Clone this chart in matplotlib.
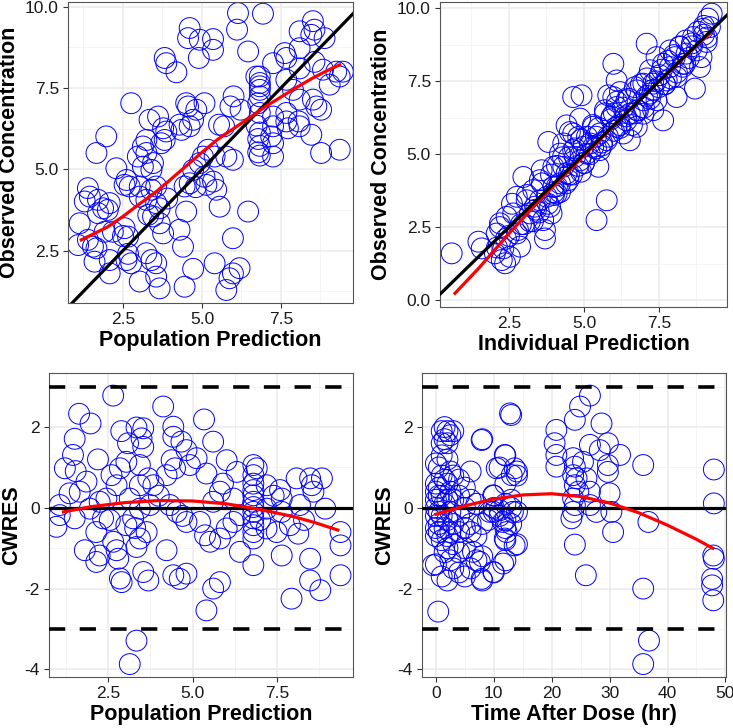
import matplotlib.pyplot as plt
from matplotlib.ticker import MultipleLocator

plt.rcParams['font.family'] = ['Liberation Sans', 'DejaVu Sans']
plt.rcParams['axes.unicode_minus'] = False

# ---- panel 1: observed vs population prediction
pred1 = [6.14, 6.93, 6.11, 4.61, 4.56, 4.93, 5.35, 5.35, 4.90, 6.46, 3.82, 3.87, 4.19,
         8.09, 8.51, 8.56, 8.46, 8.88, 8.09, 7.62, 7.67, 7.25, 8.56, 8.09, 8.83, 9.25,
         9.36, 9.04, 6.72, 6.83, 7.67, 7.88, 8.09, 8.51, 8.62, 8.77, 6.00, 6.22, 5.90,
         5.54, 5.70, 2.76, 4.50, 4.56, 4.82, 5.08, 4.72, 4.61, 4.35, 4.29, 3.34, 3.61,
         3.77, 3.87, 3.82, 3.71, 3.24, 3.13, 3.24, 2.97, 3.13, 3.45, 3.40, 1.97, 1.66,
         2.29, 2.61, 2.55, 2.71, 3.03, 3.40, 3.55, 3.03, 3.24, 3.55, 3.66, 1.39, 1.45,
         1.29, 1.71, 1.87, 2.08, 2.02, 1.71, 1.13, 1.08, 1.39, 1.55, 1.66, 1.60, 2.08,
         2.08, 1.92, 2.18, 2.55, 2.66, 2.61, 2.76, 3.03, 3.24, 3.40, 3.55, 3.55, 3.66,
         3.45, 3.66, 3.77, 4.29, 4.40, 4.45, 4.72, 4.50, 4.45, 4.61, 4.72, 4.93, 5.19,
         5.03, 5.40, 5.08, 5.35, 5.14, 5.56, 5.45, 5.77, 5.98, 5.40, 5.98, 6.19, 5.87,
         5.77, 5.98, 6.46, 6.83, 6.83, 6.83, 6.83, 6.78, 6.83, 6.73, 6.83, 6.78, 6.83,
         6.78, 6.83, 7.25, 7.25, 7.19, 7.25, 7.25, 7.67, 7.67, 7.72, 8.06, 8.09, 8.46,
         8.77, 9.36, 9.46, 2.66, 2.50, 3.30, 3.90, 4.80]
obs1 = [9.80, 9.78, 9.29, 9.34, 9.03, 8.98, 9.00, 8.67, 8.42, 8.62, 8.42, 8.26, 7.98,
        9.24, 9.55, 9.29, 9.13, 9.03, 8.72, 8.57, 8.42, 8.26, 8.30, 8.10, 8.06, 8.00,
        7.85, 7.60, 7.85, 7.55, 7.75, 7.44, 7.14, 7.14, 6.93, 6.83, 7.24, 6.83, 6.93,
        6.37, 6.32, 7.03, 7.03, 6.93, 6.83, 7.03, 6.52, 6.32, 6.21, 6.37, 6.52, 6.62,
        6.26, 6.16, 5.90, 5.80, 5.90, 5.70, 5.50, 5.39, 5.08, 5.19, 4.98, 6.01, 5.50,
        5.03, 4.67, 4.52, 4.47, 4.47, 4.37, 4.47, 4.16, 4.06, 3.96, 3.80, 4.42, 4.16,
        4.01, 4.06, 3.80, 3.96, 3.75, 3.65, 3.34, 2.67, 2.83, 2.62, 2.57, 2.16, 2.21,
        1.80, 3.08, 3.08, 3.19, 2.93, 2.21, 2.11, 1.55, 2.42, 2.21, 2.11, 1.70, 1.34,
        3.55, 3.34, 3.03, 3.14, 2.62, 1.39, 1.94, 3.70, 4.47, 4.57, 4.98, 5.19, 5.60,
        5.39, 5.39, 4.77, 4.62, 4.52, 3.85, 4.37, 5.39, 5.29, 2.11, 1.80, 1.96, 1.65,
        1.29, 2.88, 3.70, 7.85, 7.65, 7.44, 7.24, 7.03, 6.73, 6.34, 6.13, 5.93, 5.72,
        5.52, 5.42, 6.62, 6.32, 6.01, 5.80, 5.39, 6.73, 6.47, 6.26, 6.47, 6.32, 6.06,
        5.50, 5.60, 8.00, 2.40, 2.95, 3.60, 4.10, 4.45]
smooth1_x = [1.18, 2.0, 2.5, 3.0, 3.5, 4.0, 4.5, 5.0, 5.5, 6.0, 6.5, 7.0, 7.5, 8.0, 8.5, 9.0, 9.36]
smooth1_y = [2.83, 3.22, 3.55, 3.92, 4.27, 4.68, 5.10, 5.52, 5.92, 6.25, 6.58, 6.92, 7.22, 7.52, 7.80, 8.05, 8.21]

# ---- panel 2: observed vs individual prediction
pred2 = [0.59, 1.48, 1.59, 2.09, 2.03, 2.26, 2.37, 2.53, 2.31, 2.20, 2.42, 2.64, 2.76,
         2.87, 2.98, 2.76, 3.09, 3.31, 3.20, 3.37, 3.53, 3.59, 3.70, 3.70, 3.64, 3.87,
         3.92, 4.09, 3.98, 3.81, 4.20, 4.31, 4.42, 4.53, 4.81, 4.64, 4.31, 4.48, 4.70,
         4.98, 4.87, 4.92, 5.20, 5.48, 5.42, 5.76, 5.53, 5.70, 5.81, 5.98, 6.09, 5.92,
         6.09, 6.31, 6.42, 6.53, 6.76, 6.76, 6.98, 7.09, 7.20, 7.31, 7.42, 7.42, 7.64,
         7.53, 7.76, 7.87, 8.09, 8.03, 8.20, 8.42, 8.37, 8.70, 8.76, 8.87, 8.92, 8.64,
         8.98, 9.14, 9.26, 9.09, 9.20, 7.87, 7.64, 6.09, 6.20, 4.64, 5.98, 4.20, 4.42,
         4.87, 5.09, 5.31, 5.53, 5.76, 5.31, 4.64, 3.98, 3.76, 3.53, 6.98, 6.76, 6.42,
         6.53, 6.98, 7.31, 7.20, 8.09, 2.50, 3.00, 3.40, 4.00, 4.50, 5.00, 5.60, 6.20,
         6.70, 7.10, 7.70, 8.30, 8.60, 9.00, 2.10, 2.80, 3.20, 4.10, 4.90, 5.40, 6.00,
         2.2, 2.4, 2.6, 2.9, 3.1, 3.3, 3.5, 3.6, 3.8, 3.9, 4.0, 4.1, 4.2, 4.3, 4.4,
         4.5, 4.6, 4.7, 4.8, 4.9, 5.0, 5.1, 5.2, 5.3, 5.4, 5.5, 5.6, 5.7, 5.8, 5.9,
         6.0, 6.1, 6.2, 6.3, 6.4, 6.5, 6.6, 6.7, 6.8, 6.9, 7.0, 7.1, 7.2, 7.3, 7.4,
         7.5, 7.6, 7.7, 7.8, 7.9, 8.0, 8.1, 8.2, 8.3, 8.4, 8.5, 8.6, 8.8, 9.0, 9.1]
obs2 = [1.60, 2.00, 1.77, 2.28, 1.60, 1.37, 1.26, 1.48, 1.77, 2.63, 2.85, 2.97, 2.28,
        1.83, 4.22, 3.54, 3.42, 3.77, 2.97, 3.20, 4.11, 4.45, 2.40, 2.11, 2.74, 3.20,
        2.97, 3.65, 4.57, 5.42, 5.02, 5.37, 5.99, 5.76, 5.59, 5.14, 4.57, 4.11, 4.91,
        5.25, 6.22, 7.02, 5.37, 4.57, 2.74, 3.42, 5.71, 6.51, 7.02, 6.96, 6.62, 6.28,
        5.94, 5.71, 6.16, 5.48, 5.94, 6.51, 6.85, 8.79, 7.08, 7.42, 6.85, 8.33, 6.16,
        7.71, 7.53, 7.99, 6.96, 8.33, 8.68, 8.45, 8.10, 7.25, 8.56, 7.99, 8.33, 9.02,
        9.30, 9.65, 9.82, 8.85, 9.36, 8.56, 8.10, 7.53, 7.13, 6.96, 8.10, 4.00, 4.34,
        4.79, 5.02, 5.25, 5.14, 5.48, 5.94, 5.71, 3.88, 3.54, 3.42, 7.42, 7.19, 6.85,
        6.39, 6.39, 6.51, 7.88, 7.65, 2.20, 2.60, 3.10, 3.70, 4.30, 4.70, 5.40, 6.00,
        6.40, 7.00, 7.40, 8.10, 8.70, 9.10, 1.80, 2.40, 2.70, 3.90, 4.40, 5.60, 6.40,
        2.5, 2.1, 3.3, 2.6, 3.6, 2.7, 3.0, 4.0, 3.3, 4.3, 3.6, 4.6, 3.7, 4.9, 4.0,
        4.9, 4.3, 5.2, 4.6, 5.5, 4.7, 5.6, 5.0, 6.0, 5.2, 5.9, 5.3, 6.4, 5.6, 6.2,
        5.8, 6.8, 5.9, 6.6, 6.3, 6.9, 6.0, 7.3, 6.5, 7.4, 6.6, 7.6, 6.9, 7.2, 7.5,
        7.3, 7.9, 7.4, 8.2, 7.6, 8.4, 7.8, 8.7, 8.0, 8.9, 8.3, 8.8, 9.2, 9.4, 9.0]
smooth2_x = [0.7, 1.5, 2.5, 3.5, 5.0, 6.5, 8.0, 9.2]
smooth2_y = [0.23, 1.10, 2.28, 3.40, 4.95, 6.50, 8.00, 9.15]

# ---- panel 3: CWRES vs population prediction
pred3 = [2.65, 4.13, 5.34, 1.64, 1.98, 1.51, 1.46, 1.22, 1.54, 2.20, 2.89, 3.34, 3.54,
         3.49, 3.54, 3.09, 4.43, 4.43, 4.67, 4.82, 5.12, 4.92, 4.38, 4.48, 4.23, 5.61,
         5.41, 6.01, 6.31, 2.85, 2.60, 2.75, 3.04, 3.44, 3.44, 3.69, 3.84, 1.86, 1.66,
         1.36, 1.07, 1.07, 0.97, 1.51, 1.96, 2.25, 2.45, 2.35, 2.15, 1.81, 2.25, 2.15,
         2.65, 2.75, 2.80, 2.85, 2.90, 3.04, 3.24, 3.44, 3.34, 3.64, 3.54, 3.69, 3.44,
         3.74, 3.14, 4.33, 4.23, 4.43, 4.62, 4.82, 4.53, 4.82, 5.22, 5.37, 5.52, 5.61,
         5.81, 5.41, 5.81, 6.01, 6.21, 6.40, 5.61, 5.81, 6.21, 6.40, 6.80, 3.34, 3.14,
         6.80, 6.80, 6.80, 6.80, 6.80, 6.80, 6.80, 6.80, 6.80, 6.80, 6.80, 6.80, 6.90,
         7.19, 7.19, 7.19, 7.49, 7.59, 7.64, 7.64, 7.64, 7.88, 7.93, 8.08, 8.18, 8.13,
         8.48, 8.53, 8.58, 8.48, 8.48, 8.78, 8.83, 8.93, 9.38, 9.38, 9.38, 2.55, 3.30,
         4.00, 4.70, 5.90, 7.00, 7.40, 8.30]
cwres3 = [2.78, 2.51, 2.19, 2.33, 2.09, 1.71, 1.31, 0.98, 0.91, 1.20, 1.90, 1.99, 1.97,
          1.72, 1.51, 1.60, 2.01, 1.76, 1.64, 1.43, 1.23, 1.06, 1.18, 0.98, 0.81, 1.64,
          0.85, 1.18, 0.89, 0.98, 0.81, 0.56, 1.14, 1.06, 0.56, 0.73, 0.56, 0.65, 0.40,
          0.36, 0.07, -0.18, -0.47, -0.26, -0.02, 0.15, 0.23, -0.26, -0.60, -1.05, -1.18,
          -1.34, -0.84, -1.05, -1.26, -1.75, -1.84, -0.43, -0.26, -0.76, -0.97, -0.60,
          -1.59, -1.80, -0.02, 0.07, 0.23, 0.07, -1.05, -1.67, -1.76, -1.63, -0.10, -0.35,
          -0.35, -0.68, -0.84, -2.00, -1.84, -2.54, -0.76, -0.51, -0.35, -0.18, 0.15,
          0.40, 0.23, -1.09, -1.42, -3.29, -3.87, 1.06, 0.81, 0.60, 0.44, 0.31, 0.15,
          0.02, -0.10, -0.26, -0.43, -0.60, -0.76, 0.98, 0.56, -0.02, -0.51, -0.60, 0.44,
          0.23, -0.10, -1.18, -0.43, -2.25, 0.73, 0.07, -0.64, 0.73, 0.56, 0.40, -1.26,
          -1.80, -2.04, 0.73, -0.02, -0.60, -0.93, -1.67, -0.30, -0.50, 0.30, -0.20,
          0.60, -0.30, 0.30, -0.30]
smooth3_x = [1.18, 2.0, 3.0, 4.0, 5.0, 6.0, 7.0, 8.0, 8.6, 9.3]
smooth3_y = [-0.10, 0.03, 0.13, 0.18, 0.17, 0.10, -0.04, -0.22, -0.36, -0.55]

# ---- panel 4: CWRES vs time after dose
tad4 = [0.4, -0.5, 0, 0, 0, 0, 0, 0, 0, 0, 0, 0.5, 0.5, 0.5, 0.5, 0.5, 0.5,
        1, 1, 1, 1, 1, 1, 1, 1, 1.5, 1.5, 1.5, 1.5, 1.5, 1.5,
        2, 2, 2, 2, 2, 2, 2, 2, 2, 2.5, 2.5, 2.5, 2.5, 2.5, 2.5,
        3, 3, 3, 3, 3, 3, 4, 4, 4, 4, 4, 4, 5, 5, 5, 5, 5, 6, 6, 6, 6, 6,
        7, 7, 7, 8, 8, 8, 8, 9, 10, 10, 10, 10, 11, 11,
        12, 12, 12, 12, 12, 12, 12, 13, 13, 13, 13, 14, 14, 14, 14,
        12.8, 7.9, 10.5, 11.9, 13.6, 13.1, 9.9, 9.3, 11.0, 11.6, 12.2, 11.9, 11.6, 9.9,
        7.9, 13.6, 13.3, 7.6, 6.4,
        20.8, 20.5, 20.8, 20.8, 24.0, 24.9, 26.6, 28.6, 26.6, 29.7, 28.3, 31.8, 29.7,
        29.7, 30.0, 30.3, 30.6, 27.7, 26.6, 26.6, 26.0, 23.7, 24.0, 23.7, 24.3, 24.0,
        23.7, 24.0, 23.7, 23.4, 24.0, 25.9, 24.6, 25.4,
        35.8, 35.8, 35.8, 36.8, 36.7, 48.0, 48.0, 47.9, 48.0, 47.7, 47.7, 47.9]
cwres4 = [-2.57, -1.42, 1.1, 0.6, 0.4, 0.2, 0.0, -0.2, -0.5, -0.7, -1.4,
          1.0, 0.5, 0.3, -0.1, -0.4, -0.6,
          1.9, 1.6, 1.3, 0.8, 0.3, -0.2, -0.8, -1.7, 2.0, 1.7, 0.7, 0.1, -0.5, -1.1,
          1.9, 1.6, 1.2, 0.6, 0.2, -0.3, -0.7, -1.0, -1.8, 1.8, 0.9, 0.4, -0.1, -0.6, -1.3,
          1.9, 0.8, 0.2, -0.4, -0.9, -1.5, 0.7, 0.3, -0.2, -0.6, -1.1, -1.6,
          0.5, 0.0, -0.5, -1.0, -1.7, 0.9, 0.2, -0.4, -0.6, -1.5,
          0.1, -0.7, -1.3, 1.7, -0.4, -1.2, -1.8, -0.3, 0.0, 0.3, -0.1, -1.6, 1.0, -0.2,
          1.3, 0.6, 0.1, -0.3, -0.5, -0.8, -1.3, 2.3, 0.2, 0.0, -0.4, 0.9, 0.8, -0.1, -0.9,
          2.34, 1.68, 0.98, 1.31, 0.98, 0.81, 0.31, -0.10, -0.06, -0.35, -0.60, -0.76,
          -1.38, -1.59, -1.76, -0.93, -0.10, -1.34, -1.09,
          1.93, 1.60, 1.31, 1.02, 2.18, 2.51, 2.78, 2.09, 1.56, 1.60, 1.43, 1.31, 1.06,
          0.89, 0.36, -0.10, -0.60, -0.10, 0.07, 0.40, 0.73, 1.23, 1.02, 0.81, 0.73, 0.56,
          0.23, 0.07, -0.10, -0.26, -0.91, -1.67, 0.40, 1.14,
          1.06, -2.00, -3.87, -3.29, -0.35, 0.95, 0.11, -1.18, -1.26, -1.76, -1.92, -2.29]
smooth4_x = [0, 5, 10, 15, 20, 25, 30, 35, 40, 45, 47.8]
smooth4_y = [-0.16, 0.05, 0.22, 0.32, 0.35, 0.28, 0.12, -0.12, -0.43, -0.78, -1.0]

W, H = 733, 728
fig = plt.figure(figsize=(W / 100, H / 100), dpi=100)


def panel(px, xlim, ylim, xmajor, ymajor, xlabel, ylabel, xfmt, yfmt, ypad=4):
    l, t, r, b = px
    ax = fig.add_axes([l / W, 1 - b / H, (r - l) / W, (b - t) / H])
    ax.set_xlim(*xlim)
    ax.set_ylim(*ylim)
    ax.xaxis.set_major_locator(MultipleLocator(xmajor))
    ax.yaxis.set_major_locator(MultipleLocator(ymajor))
    ax.xaxis.set_minor_locator(MultipleLocator(xmajor / 2))
    ax.yaxis.set_minor_locator(MultipleLocator(ymajor / 2))
    ax.xaxis.set_major_formatter(xfmt)
    ax.yaxis.set_major_formatter(yfmt)
    ax.grid(which='major', color='#EBEBEB', lw=1.1, zorder=0)
    ax.grid(which='minor', color='#F2F2F2', lw=0.6, zorder=0)
    ax.set_axisbelow(True)
    ax.tick_params(which='major', length=3.5, width=0.8, color='#333333',
                   labelsize=12.5, labelcolor='#1a1a1a', pad=3)
    ax.tick_params(which='minor', length=0)
    for s in ax.spines.values():
        s.set_color('#555555')
        s.set_linewidth(0.8)
    ax.set_xlabel(xlabel, fontsize=15.5, fontweight='bold', labelpad=2)
    ax.set_ylabel(ylabel, fontsize=15.5, fontweight='bold', labelpad=ypad)
    return ax


circ = dict(s=225, facecolors='none', edgecolors='#0000FF', linewidths=0.7, zorder=2)

ax1 = panel((68, 2, 353, 303), (0.76, 9.78), (0.89, 10.14), 2.5, 2.5,
            'Population Prediction', 'Observed Concentration', '{x:.1f}', '{x:.1f}')
ax1.scatter(pred1, obs1, **circ)
ax1.plot([0, 11], [0, 11], color='black', lw=2.3, zorder=3)
ax1.plot(smooth1_x, smooth1_y, color='#FF0000', lw=2.3, zorder=4)

ax2 = panel((440, 2, 727, 307), (0.2, 9.77), (-0.24, 10.22), 2.5, 2.5,
            'Individual Prediction', 'Observed Concentration', '{x:.1f}', '{x:.1f}')
ax2.scatter(pred2, obs2, **circ)
ax2.plot(smooth2_x, smooth2_y, color='#FF0000', lw=2.3, zorder=3)
ax2.plot([-1, 11], [-1, 11], color='black', lw=2.3, zorder=4)

ax3 = panel((49, 373, 353, 677), (0.75, 9.75), (-4.19, 3.34), 2.5, 2,
            'Population Prediction', 'CWRES', '{x:.1f}', '{x:.0f}', ypad=2)
ax3.scatter(pred3, cwres3, **circ)
ax3.axhline(0, color='black', lw=2.3, zorder=3)
for yy in (-3, 3):
    ax3.axhline(yy, color='black', lw=2.6, dashes=(4.5, 4), zorder=3)
ax3.plot(smooth3_x, smooth3_y, color='#FF0000', lw=2.3, zorder=4)

ax4 = panel((422, 373, 726, 677), (-2.4, 50.1), (-4.19, 3.34), 10, 2,
            'Time After Dose (hr)', 'CWRES', '{x:.0f}', '{x:.0f}', ypad=2)
ax4.scatter(tad4, cwres4, **circ)
ax4.axhline(0, color='black', lw=2.3, zorder=3)
for yy in (-3, 3):
    ax4.axhline(yy, color='black', lw=2.6, dashes=(4.5, 4), zorder=3)
ax4.plot(smooth4_x, smooth4_y, color='#FF0000', lw=2.3, zorder=4)

fig.savefig('out.png', dpi=100)
